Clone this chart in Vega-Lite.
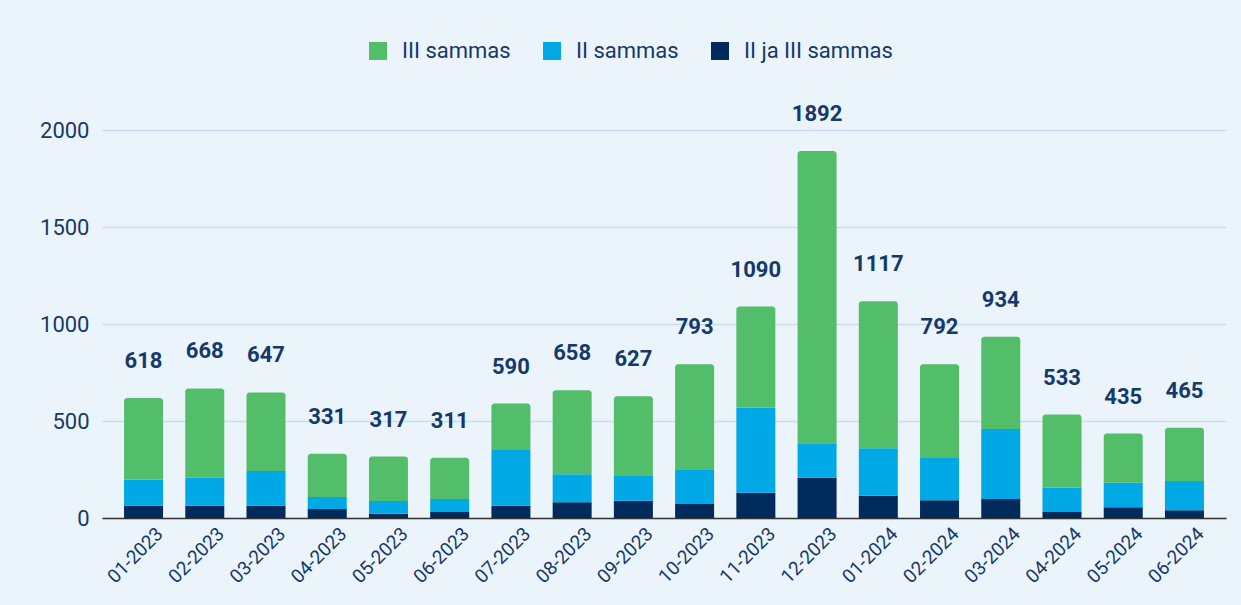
{
  "$schema": "https://vega.github.io/schema/vega-lite/v6.json",
  "width": 1124,
  "height": 388,
  "autosize": "none",
  "padding": {"left": 102, "top": 130, "right": 15, "bottom": 87},
  "background": "#EBF4FB",
  "config": {
    "view": {"stroke": null},
    "font": "Roboto",
    "axis": {"labelFont": "Roboto", "labelColor": "#15396A"},
    "legend": {"labelFont": "Roboto", "labelColor": "#15396A"}
  },
  "data": {
    "values": [
      {"month": "01-2023", "cat": "II ja III sammas", "ord": 1, "value": 63},
      {"month": "01-2023", "cat": "II sammas", "ord": 2, "value": 136},
      {"month": "01-2023", "cat": "III sammas", "ord": 3, "value": 419},
      {"month": "02-2023", "cat": "II ja III sammas", "ord": 1, "value": 63},
      {"month": "02-2023", "cat": "II sammas", "ord": 2, "value": 145},
      {"month": "02-2023", "cat": "III sammas", "ord": 3, "value": 460},
      {"month": "03-2023", "cat": "II ja III sammas", "ord": 1, "value": 63},
      {"month": "03-2023", "cat": "II sammas", "ord": 2, "value": 179},
      {"month": "03-2023", "cat": "III sammas", "ord": 3, "value": 405},
      {"month": "04-2023", "cat": "II ja III sammas", "ord": 1, "value": 46},
      {"month": "04-2023", "cat": "II sammas", "ord": 2, "value": 62},
      {"month": "04-2023", "cat": "III sammas", "ord": 3, "value": 223},
      {"month": "05-2023", "cat": "II ja III sammas", "ord": 1, "value": 22},
      {"month": "05-2023", "cat": "II sammas", "ord": 2, "value": 66},
      {"month": "05-2023", "cat": "III sammas", "ord": 3, "value": 229},
      {"month": "06-2023", "cat": "II ja III sammas", "ord": 1, "value": 31},
      {"month": "06-2023", "cat": "II sammas", "ord": 2, "value": 67},
      {"month": "06-2023", "cat": "III sammas", "ord": 3, "value": 213},
      {"month": "07-2023", "cat": "II ja III sammas", "ord": 1, "value": 63},
      {"month": "07-2023", "cat": "II sammas", "ord": 2, "value": 287},
      {"month": "07-2023", "cat": "III sammas", "ord": 3, "value": 240},
      {"month": "08-2023", "cat": "II ja III sammas", "ord": 1, "value": 81},
      {"month": "08-2023", "cat": "II sammas", "ord": 2, "value": 144},
      {"month": "08-2023", "cat": "III sammas", "ord": 3, "value": 433},
      {"month": "09-2023", "cat": "II ja III sammas", "ord": 1, "value": 89},
      {"month": "09-2023", "cat": "II sammas", "ord": 2, "value": 127},
      {"month": "09-2023", "cat": "III sammas", "ord": 3, "value": 411},
      {"month": "10-2023", "cat": "II ja III sammas", "ord": 1, "value": 72},
      {"month": "10-2023", "cat": "II sammas", "ord": 2, "value": 179},
      {"month": "10-2023", "cat": "III sammas", "ord": 3, "value": 542},
      {"month": "11-2023", "cat": "II ja III sammas", "ord": 1, "value": 130},
      {"month": "11-2023", "cat": "II sammas", "ord": 2, "value": 439},
      {"month": "11-2023", "cat": "III sammas", "ord": 3, "value": 521},
      {"month": "12-2023", "cat": "II ja III sammas", "ord": 1, "value": 208},
      {"month": "12-2023", "cat": "II sammas", "ord": 2, "value": 177},
      {"month": "12-2023", "cat": "III sammas", "ord": 3, "value": 1507},
      {"month": "01-2024", "cat": "II ja III sammas", "ord": 1, "value": 115},
      {"month": "01-2024", "cat": "II sammas", "ord": 2, "value": 244},
      {"month": "01-2024", "cat": "III sammas", "ord": 3, "value": 758},
      {"month": "02-2024", "cat": "II ja III sammas", "ord": 1, "value": 91},
      {"month": "02-2024", "cat": "II sammas", "ord": 2, "value": 218},
      {"month": "02-2024", "cat": "III sammas", "ord": 3, "value": 483},
      {"month": "03-2024", "cat": "II ja III sammas", "ord": 1, "value": 98},
      {"month": "03-2024", "cat": "II sammas", "ord": 2, "value": 361},
      {"month": "03-2024", "cat": "III sammas", "ord": 3, "value": 475},
      {"month": "04-2024", "cat": "II ja III sammas", "ord": 1, "value": 31},
      {"month": "04-2024", "cat": "II sammas", "ord": 2, "value": 125},
      {"month": "04-2024", "cat": "III sammas", "ord": 3, "value": 377},
      {"month": "05-2024", "cat": "II ja III sammas", "ord": 1, "value": 55},
      {"month": "05-2024", "cat": "II sammas", "ord": 2, "value": 127},
      {"month": "05-2024", "cat": "III sammas", "ord": 3, "value": 253},
      {"month": "06-2024", "cat": "II ja III sammas", "ord": 1, "value": 40},
      {"month": "06-2024", "cat": "II sammas", "ord": 2, "value": 151},
      {"month": "06-2024", "cat": "III sammas", "ord": 3, "value": 274}
    ]
  },
  "transform": [
    {"stack": "value", "groupby": ["month"], "sort": [{"field": "ord", "order": "ascending"}], "as": ["v0", "v1"]}
  ],
  "encoding": {
    "x": {
      "field": "month",
      "type": "ordinal",
      "title": null,
      "scale": {
        "domain": ["01-2023","02-2023","03-2023","04-2023","05-2023","06-2023","07-2023","08-2023","09-2023","10-2023","11-2023","12-2023","01-2024","02-2024","03-2024","04-2024","05-2024","06-2024"],
        "paddingInner": 0.363,
        "paddingOuter": 0.36
      },
      "axis": {
        "labelAngle": -45,
        "labelFontSize": 19,
        "ticks": false,
        "domainColor": "#333333",
        "domainWidth": 1.5,
        "labelPadding": 6,
        "labelOffset": 10
      }
    }
  },
  "layer": [
    {
      "transform": [{"filter": "datum.cat !== 'III sammas'"}],
      "mark": {"type": "bar"},
      "encoding": {
        "y": {
          "field": "v1",
          "type": "quantitative",
          "title": null,
          "scale": {"domain": [0, 2000]},
          "axis": {
            "values": [0, 500, 1000, 1500, 2000],
            "format": "d",
            "labelFontSize": 22,
            "labelPadding": 13,
            "ticks": false,
            "domain": false,
            "gridColor": "#C8DCEE",
            "gridWidth": 1.5
          }
        },
        "y2": {"field": "v0"},
        "color": {
          "field": "cat",
          "type": "nominal",
          "scale": {
            "domain": ["III sammas", "II sammas", "II ja III sammas"],
            "range": ["#52BE69", "#00A9E6", "#002B5C"]
          },
          "legend": {
            "title": null,
            "orient": "none",
            "direction": "horizontal",
            "legendX": 265,
            "legendY": -90,
            "symbolType": "square",
            "symbolSize": 324,
            "symbolStrokeWidth": 0,
            "labelFontSize": 22,
            "labelOffset": 13,
            "columnPadding": 30
          }
        }
      }
    },
    {
      "transform": [{"filter": "datum.cat === 'III sammas'"}],
      "mark": {"type": "bar", "cornerRadiusTopLeft": 3, "cornerRadiusTopRight": 3},
      "encoding": {
        "y": {"field": "v1", "type": "quantitative"},
        "y2": {"field": "v0"},
        "color": {"field": "cat", "type": "nominal"}
      }
    },
    {
      "transform": [{"aggregate": [{"op": "sum", "field": "value", "as": "total"}], "groupby": ["month"]}],
      "mark": {"type": "text", "fontSize": 22, "fontWeight": "bold", "color": "#15396A", "baseline": "alphabetic", "dy": -30},
      "encoding": {
        "y": {"field": "total", "type": "quantitative"},
        "text": {"field": "total", "type": "quantitative"}
      }
    }
  ]
}
